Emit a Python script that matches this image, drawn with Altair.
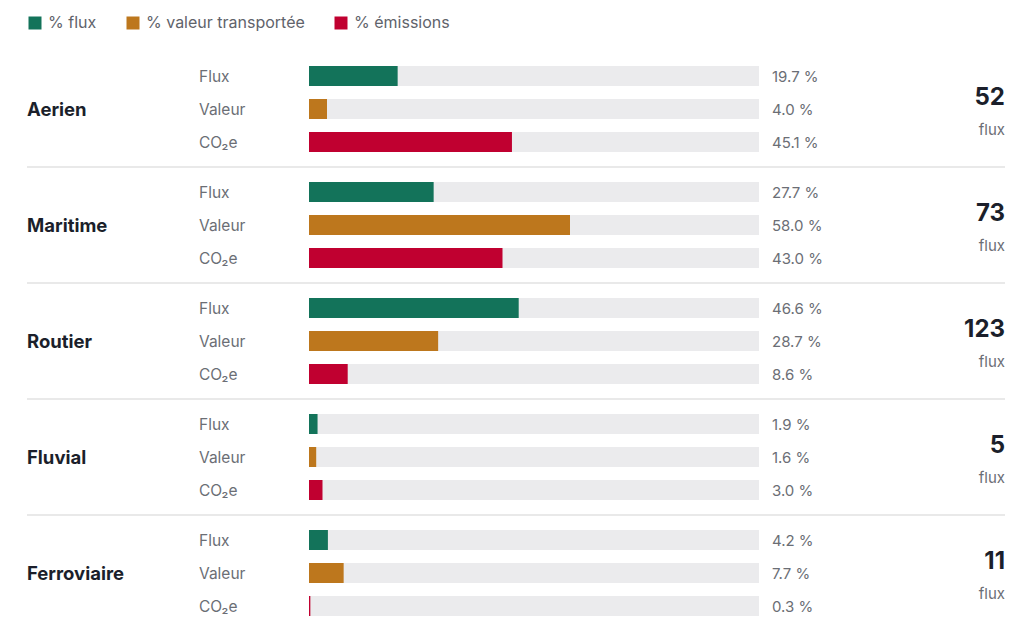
import altair as alt
import pandas as pd

# Transport modes and their shares
modes = ["Aerien", "Maritime", "Routier", "Fluvial", "Ferroviaire"]
flux_pct = [19.7, 27.7, 46.6, 1.9, 4.2]
valeur_pct = [4.0, 58.0, 28.7, 1.6, 7.7]
co2_pct = [45.1, 43.0, 8.6, 3.0, 0.3]
flux_count = [52, 73, 123, 5, 11]

metric_labels = ["Flux", "Valeur", "CO₂e"]
legend_labels = ["% flux", "% valeur transportée", "% émissions"]
colors = ["#13735a", "#bd771d", "#c00030"]

# Vertical layout (pixels)
FIRST_ROW = 76
ROW_STEP = 33
GROUP_STEP = 116
BAR_HALF = 10
FONT = "Inter"
GRAY = "#6b6e75"
DARK = "#1b1f2b"

rows = []
for g, mode in enumerate(modes):
    values = [flux_pct[g], valeur_pct[g], co2_pct[g]]
    for r, v in enumerate(values):
        y = FIRST_ROW + g * GROUP_STEP + r * ROW_STEP
        rows.append({
            "mode": mode, "metric": metric_labels[r], "serie": legend_labels[r],
            "value": v, "label": f"{v:.1f} %", "y": y,
            "y0": y - BAR_HALF, "y1": y + BAR_HALF, "zero": 0, "full": 100,
        })
bars = pd.DataFrame(rows)

groups = pd.DataFrame({
    "mode": modes,
    "count": [str(c) for c in flux_count],
    "unit": ["flux"] * len(modes),
    "yc": [FIRST_ROW + ROW_STEP + g * GROUP_STEP for g in range(len(modes))],
})
groups["ynum"] = groups["yc"] - 13
groups["yunit"] = groups["yc"] + 20
seps = pd.DataFrame({"ys": [FIRST_ROW + ROW_STEP + 58 + g * GROUP_STEP for g in range(len(modes) - 1)]})

x_scale = alt.Scale(domain=[0, 100])
y_scale = alt.Scale(domain=[0, 634], reverse=True)
y_axisless = dict(scale=y_scale, axis=None)

track = alt.Chart(bars).mark_rect(color="#ebebed").encode(
    x=alt.X("zero:Q", scale=x_scale, axis=None),
    x2="full:Q",
    y=alt.Y("y0:Q", **y_axisless),
    y2="y1:Q",
)

bar = alt.Chart(bars).mark_rect().encode(
    x=alt.X("zero:Q", scale=x_scale, axis=None),
    x2="value:Q",
    y=alt.Y("y0:Q", **y_axisless),
    y2="y1:Q",
    color=alt.Color(
        "serie:N",
        scale=alt.Scale(domain=legend_labels, range=colors),
        legend=alt.Legend(
            title=None, orient="none", legendX=-282, legendY=15, direction="horizontal",
            symbolType="square", symbolSize=169, symbolStrokeWidth=0, symbolOffset=0,
            labelFont=FONT, labelFontSize=16, labelColor="#5f636b", labelOffset=5,
            columnPadding=28, padding=0,
        ),
    ),
)

metric_text = alt.Chart(bars).mark_text(
    align="left", baseline="middle", dy=1, font=FONT, fontSize=15.5, color=GRAY
).encode(x=alt.value(-110), y=alt.Y("y:Q", **y_axisless), text="metric:N")

value_text = alt.Chart(bars).mark_text(
    align="left", baseline="middle", dy=1, font=FONT, fontSize=15, color=GRAY
).encode(x=alt.value(463), y=alt.Y("y:Q", **y_axisless), text="label:N")

mode_text = alt.Chart(groups).mark_text(
    align="left", baseline="middle", dy=1, font=FONT, fontSize=18.5, fontWeight="bold", color=DARK
).encode(x=alt.value(-282), y=alt.Y("yc:Q", **y_axisless), text="mode:N")

count_text = alt.Chart(groups).mark_text(
    align="right", baseline="middle", dy=2, font=FONT, fontSize=24, fontWeight="bold", color=DARK
).encode(x=alt.value(696), y=alt.Y("ynum:Q", **y_axisless), text="count:N")

unit_text = alt.Chart(groups).mark_text(
    align="right", baseline="middle", dy=1, font=FONT, fontSize=15, color=GRAY
).encode(x=alt.value(696), y=alt.Y("yunit:Q", **y_axisless), text="unit:N")

sep = alt.Chart(seps).mark_rule(color="#e2e2e2", strokeWidth=1.5).encode(
    x=alt.value(-282), x2=alt.value(696), y=alt.Y("ys:Q", **y_axisless)
)

chart = alt.layer(
    sep, track, bar, metric_text, value_text, mode_text, count_text, unit_text
).properties(
    width=450, height=634,
    autosize=alt.AutoSizeParams(type="none"),
    padding={"left": 309, "right": 265, "top": 0, "bottom": 0},
).configure(background="white").configure_view(strokeWidth=0)

chart.save("out.html", embed_options={"renderer": "svg", "actions": False})
